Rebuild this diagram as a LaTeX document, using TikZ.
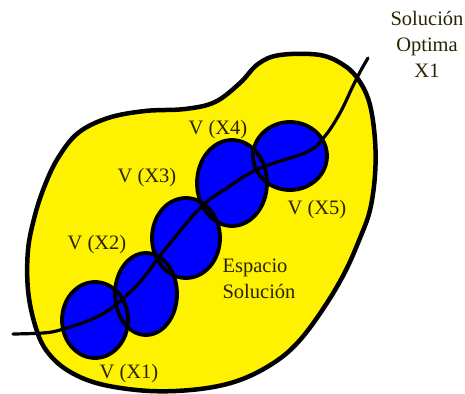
\documentclass[tikz,border=0pt]{standalone}
\usepackage{fontspec}
\setmainfont{Liberation Serif}
\usetikzlibrary{shapes.geometric}
\definecolor{blobyellow}{RGB}{255,242,0}
\definecolor{vblue}{RGB}{0,0,255}
\definecolor{lbltext}{RGB}{40,35,0}
\tikzset{
  outline/.style={draw=black, line width=4.5pt, line join=round},
  vhood/.style={fill=vblue},
  vedge/.style={draw=black, line width=3.8pt},
  lbl/.style={font=\fontsize{20.5}{26}\selectfont, text=lbltext, inner sep=0pt},
  path/.style={draw=black, line width=3.2pt, line cap=round, line join=round}
}
\begin{document}
\begin{tikzpicture}[x=1pt,y=-1pt]
\useasboundingbox (0,0) rectangle (465,393);
% solution space
\path[outline, fill=blobyellow] plot[smooth cycle, tension=0.6] coordinates {
 (280,55) (320,55) (345,66) (360,82) (370,105) (375,140) (375,175) (370,210)
 (360,238) (345,272) (325,306) (300,340) (275,362) (240,380) (200,389) (150,391)
 (100,384) (67,370) (46,350) (35,325) (28,290) (28,250) (35,215) (45,185)
 (58,158) (78,133) (108,118) (145,111) (185,109) (215,102) (240,83) (258,64)};
% neighbourhoods: fills
\fill[vhood] (95,320) ellipse [x radius=33, y radius=38];
\fill[vhood] (146,294) ellipse [x radius=31, y radius=41];
\fill[vhood] (186,238) ellipse [x radius=34, y radius=40];
\fill[vhood] (232,183) ellipse [x radius=35, y radius=43];
\fill[vhood] (290,156) ellipse [x radius=37, y radius=34];
% neighbourhoods: outlines
\draw[vedge] (95,320) ellipse [x radius=33, y radius=38];
\draw[vedge] (146,294) ellipse [x radius=31, y radius=41];
\draw[vedge] (186,238) ellipse [x radius=34, y radius=40];
\draw[vedge] (232,183) ellipse [x radius=35, y radius=43];
\draw[vedge] (290,156) ellipse [x radius=37, y radius=34];
% search path
\coordinate (start) at (13,334);
\coordinate (opt) at (368,58);
\draw[path] plot[smooth, tension=0.6] coordinates {
 (start) (43,333) (60,330) (90,320) (113,307) (140,282) (163,252) (200,208)
 (227,188) (260,168) (307,152) (325,136) (340,113) (352,88) (360,72) (opt)};
% labels
\node[lbl] (x4) at (218,130) {V (X4)};
\node[lbl] (x3) at (147,178) {V (X3)};
\node[lbl] (x2) at (97,245) {V (X2)};
\node[lbl] (x5) at (317,210) {V (X5)};
\node[lbl] (x1) at (129,374) {V (X1)};
\node[lbl, align=left] (esp) at (259,279) {Espacio\\Solución};
\node[lbl, align=center] (sol) at (427,44) {Solución\\Optima\\X1};
\end{tikzpicture}
\end{document}
